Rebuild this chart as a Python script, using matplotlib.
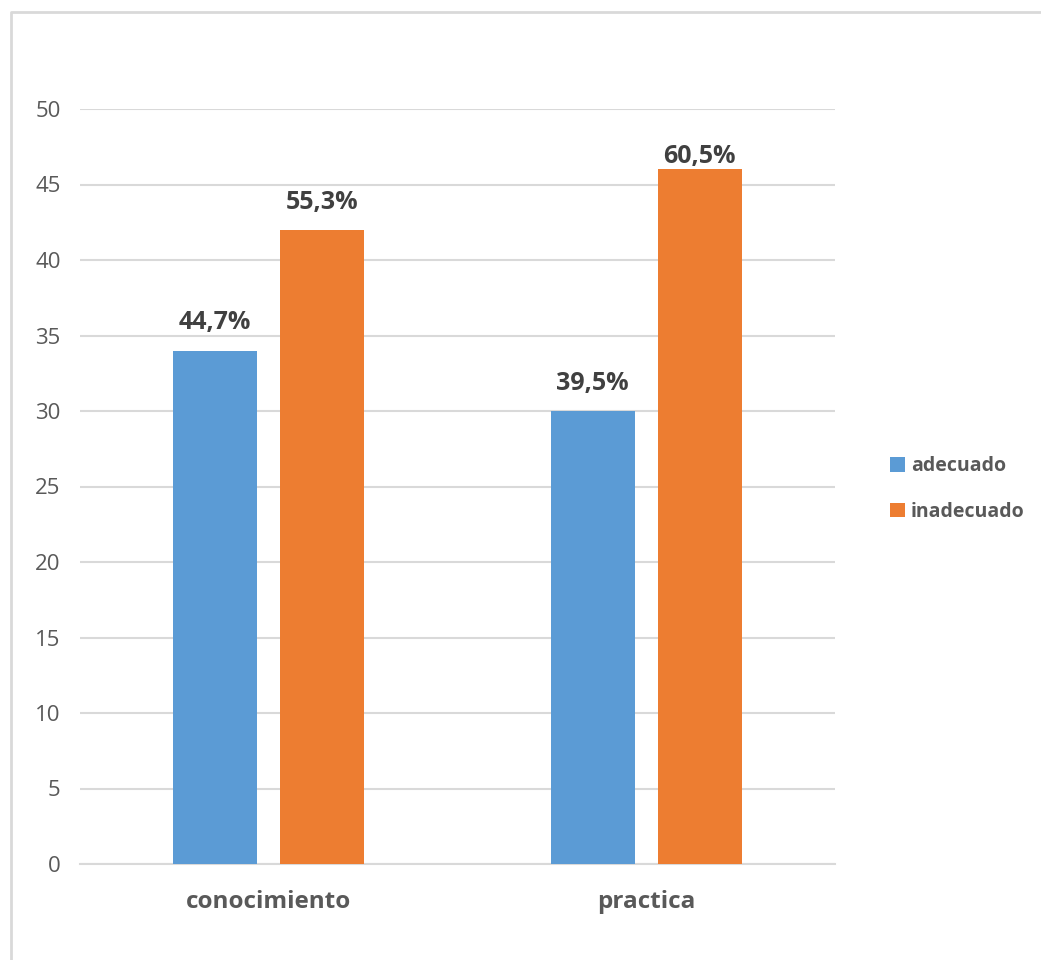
import matplotlib
matplotlib.use("Agg")
import matplotlib.pyplot as plt
from matplotlib.lines import Line2D
import numpy as np

categories = ["conocimiento", "practica"]
series_names = ["adecuado", "inadecuado"]
adecuado = [34, 30]
inadecuado = [42, 46]
adecuado_labels = ["44,7%", "39,5%"]
inadecuado_labels = ["55,3%", "60,5%"]
yticks = [0, 5, 10, 15, 20, 25, 30, 35, 40, 45, 50]

blue = "#5B9BD5"
orange = "#ED7D31"
grid_c = "#D9D9D9"
txt_c = "#595959"
lbl_c = "#404040"

plt.rcParams['font.family'] = ['Open Sans', 'DejaVu Sans']

fig = plt.figure(figsize=(10.41, 9.6), dpi=100)
# chart border (only top and left visible in reference)
fig.lines.append(Line2D([11/1041, 11/1041, 1.0], [0.0, 1 - 12/960, 1 - 12/960],
                        transform=fig.transFigure, color=grid_c, lw=2))
ax = fig.add_axes([80/1041, 0.1, 755/1041, (864-109)/960])

x = np.arange(len(categories))
w = 0.2225
off = 0.142
b1 = ax.bar(x - off, adecuado, w, color=blue, label=series_names[0], zorder=3)
b2 = ax.bar(x + off, inadecuado, w, color=orange, label=series_names[1], zorder=3)

label_gap = 1.0      # data units above bar
label_max = 46.0     # labels are pushed down so they stay in the plot area
for bars, labs in ((b1, adecuado_labels), (b2, inadecuado_labels)):
    for rect, lab in zip(bars, labs):
        y = min(rect.get_height() + label_gap, label_max)
        ax.text(rect.get_x() + rect.get_width()/2, y, lab, ha="center", va="bottom",
                fontsize=18, fontweight="bold", color=lbl_c)

ax.set_xlim(-0.5, 1.5)
ax.set_ylim(0, 50)
ax.set_yticks(yticks)
ax.set_xticks(x)
ax.set_xticklabels(categories, fontsize=17.5, fontweight="bold", color=txt_c)
ax.tick_params(axis="x", length=0, pad=19)
ax.tick_params(axis="y", length=0, pad=14, labelsize=16, labelcolor=txt_c)
ax.yaxis.grid(True, color=grid_c, lw=1.5, zorder=0)
for s in ["top", "right", "left"]:
    ax.spines[s].set_visible(False)
ax.spines["bottom"].set_color(grid_c)
ax.spines["bottom"].set_linewidth(1.5)

leg = fig.legend(handles=[b1, b2], labels=series_names, loc="center left",
                 bbox_to_anchor=(873/1041, 1 - 489/960), frameon=False,
                 handlelength=0.75, handleheight=0.75, handletextpad=0.3, labelspacing=1.3,
                 prop={"size": 14, "weight": "bold"})
for t in leg.get_texts():
    t.set_color(txt_c)

fig.savefig("out.png", dpi=100)
